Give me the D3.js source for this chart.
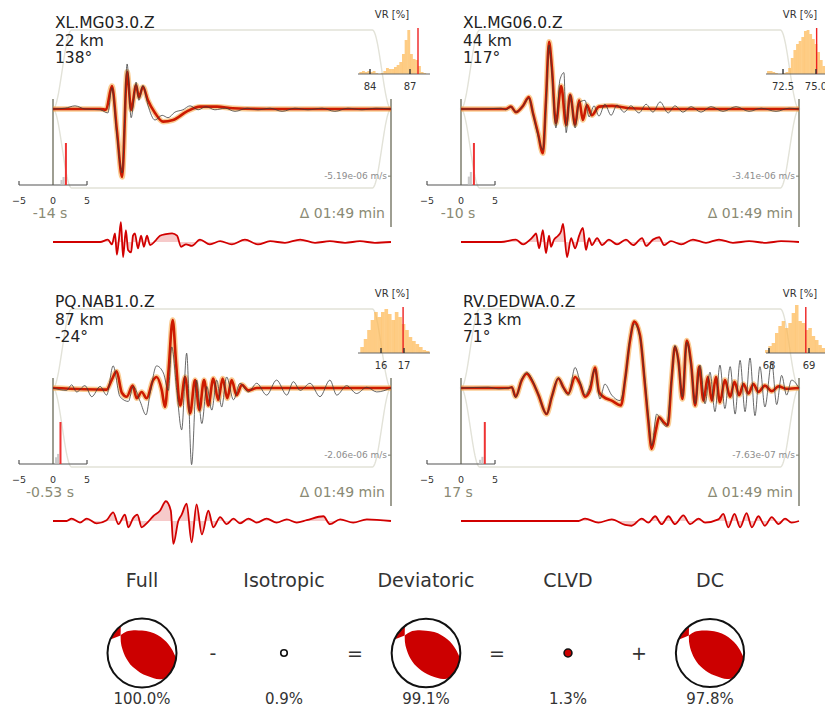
<!DOCTYPE html>
<html>
<head>
<meta charset="utf-8">
<script src="https://cdn.jsdelivr.net/npm/d3@7"></script>
<style>
  body { margin: 0; background: #fff; }
  svg { display: block; font-family: "DejaVu Sans", sans-serif; }
</style>
</head>
<body>
<svg id="chart" width="825" height="708"></svg>
<script>
'use strict';

// station header texts
var stations = ["XL.MG03.0.Z", "XL.MG06.0.Z", "PQ.NAB1.0.Z", "RV.DEDWA.0.Z"];
var distances = ["22 km", "44 km", "87 km", "213 km"];
var azimuths = ["138°", "117°", "-24°", "71°"];
var shiftLabels = ["-14 s", "-10 s", "-0.53 s", "17 s"];
var ampLabels = ["-5.19e-06 m/s", "-3.41e-06 m/s", "-2.06e-06 m/s", "-7.63e-07 m/s"];
var durationLabel = "\u0394 01:49 min";
var duration = 109;              // seconds shown in each window
var taperKnots = [0, 6, 103, 109];

// waveforms: [time s, normalised amplitude]
var obsMG03 = [[0,0],[3.9,0.01],[7.1,0.04],[10.3,0],[15.2,-0.01],[17.7,-0.05],[19.0,0.27],[20.6,-0.33],[22.3,-0.81],[23.9,0.57],[25.2,-0.11],[26.8,0.34],[27.7,0.11],[29.0,0.30],[30.6,0.05],[32.9,-0.14],[35.2,-0.08],[37.1,-0.11],[39.3,-0.04],[41.9,-0.01],[44.2,0.04],[46.8,-0.01],[49.3,0.03],[52.2,-0.01],[55.5,0.01],[58.7,-0.03],[62.6,0.01],[66.1,-0.01],[70.0,0.01],[73.9,-0.03],[78.0,0.01],[82.2,-0.01],[86.8,0.01],[90.9,-0.03],[95.1,0.01],[99.6,-0.01],[104.2,0.01],[109,0]];
var synMG03 = [[0,0],[15.2,0],[17.1,-0.01],[19.0,0.29],[20.6,-0.27],[22.3,-0.86],[23.9,0.47],[25.2,-0.01],[26.8,0.30],[27.7,0.15],[29.0,0.28],[30.6,0.11],[32.9,-0.05],[35.5,-0.16],[38.7,-0.14],[43.2,-0.03],[47.4,0.03],[52.9,0.03],[58.0,0.01],[69.0,0],[109,0]];
var resMG03 = [[0,0],[15.2,0],[17.7,0.03],[19.0,-0.03],[20.0,0.11],[20.6,-0.16],[21.3,0.05],[21.9,0.25],[22.6,-0.19],[23.5,0.15],[24.2,-0.10],[25.2,-0.13],[25.8,0.08],[26.4,0.11],[27.4,-0.08],[28.4,0.08],[29.3,-0.06],[30.3,0.08],[31.3,-0.04],[32.9,0.01],[34.5,0.08],[36.4,0.10],[38.4,0.11],[40.0,0.08],[41.3,-0.06],[42.9,-0.03],[44.8,-0.05],[47.4,0.03],[50.6,-0.03],[53.9,0.01],[57.7,-0.03],[61.9,0.03],[66.1,-0.03],[70.0,0.01],[74.8,-0.01],[79.7,0.03],[84.5,-0.01],[89.3,0.01],[94.2,-0.01],[99.0,0.01],[103.8,-0.01],[109,0]];

var obsMG06 = [[0,0],[6.5,0],[12.9,0.01],[14.5,-0.01],[16.1,0.03],[17.7,-0.04],[20.0,0.04],[21.9,0.14],[23.2,-0.06],[24.8,-0.33],[26.4,-0.52],[27.4,0.05],[28.4,0.81],[29.3,0.47],[30.6,-0.24],[31.9,0.37],[33.2,0.46],[33.9,-0.30],[35.2,0.18],[36.8,-0.24],[38.1,0.08],[40.0,0.11],[41.3,-0.10],[42.9,0.04],[44.5,-0.09],[46.4,0.06],[48.4,-0.08],[50.3,0.05],[52.6,-0.04],[54.8,0.04],[57.4,-0.05],[59.7,0.06],[61.9,-0.04],[64.2,0.09],[66.8,-0.05],[69.0,0.04],[71.6,-0.04],[74.2,0.03],[77.4,-0.04],[80.6,0.03],[84.5,-0.03],[88.7,0.03],[92.9,-0.03],[96.8,0.01],[101.6,-0.03],[105.8,0.01],[109,0]];
var synMG06 = [[0,0],[14.5,0],[16.1,0.03],[17.7,-0.04],[20.0,0.04],[21.9,0.15],[23.2,-0.05],[24.8,-0.30],[26.4,-0.56],[27.4,0.11],[28.4,0.85],[29.3,0.53],[30.6,-0.18],[32.3,0.29],[33.9,-0.20],[35.2,0.18],[36.8,-0.20],[38.1,0.11],[39.3,-0.14],[40.6,0.05],[42.2,-0.08],[44.5,0.03],[48.7,0.04],[54.2,0.01],[64.5,0],[109,0]];
var resMG06 = [[0,0],[12.9,0],[17.7,0.03],[20.0,-0.03],[22.3,0.03],[23.5,0.08],[24.2,0.11],[25.2,-0.08],[26.4,0.15],[27.4,-0.14],[28.4,0.08],[29.0,-0.06],[30.0,0.03],[31.3,0.08],[32.3,0.14],[32.9,0.23],[34.2,-0.19],[35.5,0.05],[36.8,-0.08],[38.1,0.08],[39.3,0.18],[40.3,-0.10],[41.3,0.05],[42.2,-0.04],[43.9,0.05],[45.5,-0.04],[47.7,0.03],[50.3,-0.03],[53.2,0.03],[55.5,-0.04],[58.4,0.05],[59.7,-0.05],[61.9,0.03],[63.9,0.06],[65.5,-0.04],[67.7,0.01],[71.0,-0.03],[74.8,0.03],[79.0,-0.01],[83.2,0.03],[87.7,-0.01],[92.9,0.01],[98.4,-0.01],[103.2,0.01],[109,0]];

var obsNAB1 = [[0,0],[4.4,-0.03],[6.0,0.04],[7.6,-0.05],[10.3,0.03],[12.5,-0.11],[15.2,0.02],[17.3,-0.09],[19.4,0.28],[21.6,-0.11],[24.3,-0.17],[25.9,0.02],[28.1,-0.17],[30.0,-0.34],[31.3,-0.07],[33.4,0.28],[35.6,0.19],[37.2,-0.03],[38.3,0.52],[39.9,-0.03],[41.5,-0.53],[43.1,0.44],[44.7,-0.97],[46.3,0.10],[48.0,-0.45],[49.6,0.02],[51.2,-0.28],[52.8,0.10],[54.4,-0.24],[56.0,0.14],[58.2,-0.15],[60.3,0.06],[63.0,-0.05],[65.7,0.06],[68.9,-0.09],[72.1,0.10],[75.4,-0.09],[77.5,0.08],[79.7,-0.03],[82.9,0.06],[86.1,-0.11],[89.3,0.10],[91.5,-0.09],[94.7,0.03],[97.9,-0.07],[101.2,0.01],[104.4,-0.05],[109,0]];
var synNAB1 = [[0,0],[17.3,-0.02],[18.9,0.10],[20.5,0.21],[22.2,-0.06],[23.8,-0.11],[25.7,0.03],[27.0,-0.13],[28.6,-0.05],[30.2,-0.13],[32.3,0.10],[33.4,0.14],[35.1,-0.03],[36.1,-0.24],[37.2,0.19],[38.6,0.86],[39.7,0.31],[41.0,-0.22],[42.6,0.14],[44.2,-0.32],[45.8,0.10],[47.2,-0.28],[48.7,0.10],[50.1,-0.22],[51.7,0.12],[53.3,-0.15],[54.7,0.12],[56.2,-0.13],[57.6,0.10],[59.2,-0.09],[60.9,0.04],[63.0,-0.03],[65.7,0],[109,0]];
var resNAB1 = [[0,0],[4.4,0],[6.0,0.03],[8.7,-0.02],[10.9,0.03],[14.1,-0.03],[17.3,0.01],[19.4,0.11],[21.1,-0.04],[23.2,0.08],[24.3,-0.08],[25.9,0.04],[27.2,0.08],[28.6,-0.08],[30.2,-0.03],[32.3,0.06],[34.5,0.13],[36.4,0.25],[38.0,0.13],[38.8,-0.29],[40.4,0],[41.5,0.08],[43.1,0.22],[44.7,-0.27],[46.3,0.21],[48.0,-0.17],[50.1,0.13],[51.7,-0.08],[53.9,0.05],[56.0,-0.04],[58.2,0.03],[60.3,-0.03],[63.0,0.03],[65.7,-0.02],[68.9,0.03],[72.1,-0.02],[75.4,0.02],[78.6,-0.02],[81.8,0.01],[87.2,0.06],[89.3,-0.04],[92.6,0.02],[96.8,-0.02],[101.2,0.02],[109,0]];

var obsDEDWA = [[0,0],[8.8,0.01],[12.1,-0.01],[15.3,0],[16.4,0.01],[17.6,-0.12],[19.6,0.11],[21.2,0.20],[23.0,0.10],[25.0,-0.09],[27.6,-0.33],[29.3,-0.11],[31.4,0.13],[33.0,0],[34.6,-0.09],[36.8,0.26],[38.4,0.08],[40.0,-0.09],[41.6,0.03],[43.2,0.24],[44.8,-0.14],[46.4,0.05],[48.6,-0.09],[51.3,-0.16],[52.9,0.10],[54.5,0.62],[55.9,0.81],[57.7,0.65],[59.3,0.10],[60.4,-0.37],[61.5,-0.73],[63.1,-0.33],[64.5,-0.41],[66.3,-0.49],[67.9,0.10],[69.0,0.54],[70.1,0.33],[71.4,-0.11],[72.8,0.58],[74.2,0.29],[75.5,-0.20],[77.1,0.29],[78.7,-0.20],[80.3,0.20],[81.9,-0.30],[83.5,0.29],[85.1,-0.26],[86.8,0.27],[88.4,-0.33],[90.0,0.35],[91.6,-0.30],[93.2,0.38],[94.8,-0.35],[96.4,0.27],[98.0,-0.24],[100.2,0.33],[101.8,-0.21],[103.4,0.16],[105.0,-0.09],[106.6,0.10],[109,0]];
var synDEDWA = [[0,0],[15.3,0],[16.4,0.01],[17.6,-0.11],[19.6,0.10],[21.2,0.18],[22.8,0.10],[25.0,-0.09],[27.6,-0.33],[29.3,-0.11],[31.4,0.12],[33.0,0.01],[34.6,-0.07],[36.8,0.14],[38.4,0.05],[40.0,-0.11],[41.6,-0.03],[43.2,0.26],[44.5,-0.05],[45.9,-0.11],[48.6,-0.16],[51.6,-0.22],[52.9,0.10],[54.5,0.60],[55.9,0.84],[57.7,0.67],[59.3,0.05],[60.4,-0.41],[61.5,-0.77],[62.8,-0.54],[63.9,-0.37],[65.3,-0.43],[66.7,-0.47],[67.9,0.10],[69.0,0.52],[70.1,0.35],[71.4,-0.14],[72.8,0.60],[74.2,0.31],[75.5,-0.22],[76.8,0.27],[78.2,-0.16],[79.6,0.14],[80.9,-0.16],[82.2,0.14],[83.5,-0.18],[85.1,0.10],[86.8,-0.11],[88.2,0.08],[89.7,-0.09],[91.1,0.05],[92.7,-0.07],[94.3,0.05],[95.9,-0.05],[98.0,0.03],[100.2,-0.04],[102.4,0.02],[105.0,-0.01],[109,0]];
var resDEDWA = [[0,0],[37.9,0],[40.0,0.03],[44.3,-0.02],[48.6,0.02],[52.9,-0.05],[55.0,-0.06],[58.3,0.03],[60.4,-0.02],[62.6,0.06],[64.7,-0.04],[66.9,0.06],[69.0,-0.04],[71.7,0.07],[73.9,-0.04],[76.6,0.03],[78.7,-0.02],[83.0,0.02],[84.6,0.09],[86.2,-0.08],[88.2,0.09],[90.0,-0.08],[92.1,0.10],[93.8,-0.08],[95.9,0.06],[98.0,-0.06],[100.2,0.05],[102.4,-0.04],[104.5,0.03],[106.6,-0.02],[109,0]];

// variance reduction histograms
var vrDomains = [[83.1, 88.5], [71.21, 76.67], [15.0, 18.13], [67.925, 69.725]];
var vrTicks = [[84, 87], [72.5, 75.0], [16, 17], [68, 69]];
var vrTickLabels = [["84", "87"], ["72.5", "75.0"], ["16", "17"], ["68", "69"]];
var vrBinStart = [83.2, 71.29, 15.1, 67.9];
var vrBinWidth = [0.2, 0.2, 0.15, 0.0833];
var vrCountsMG03 = [2,3,2,3,2,3,1,0,1,3,6,5,5,7,9,12,20,34,44,20,15,14,8,2,1,0];
var vrCountsMG06 = [3,3,2,1,0,0,1,2,6,16,24,30,33,37,43,44,40,35,30,22,14,8];
var vrCountsNAB1 = [6,14,23,33,41,36,41,44,39,33,41,36,29,23,16,12,9,6,3,2];
var vrCountsDEDWA = [3,7,10,20,27,32,25,30,40,48,32,30,23,25,17,13,8,5];
var vrBest = [87.6, 75.05, 16.96, 68.92];

// time shift histograms [shift s, relative count]
var shiftBest = [1.9, 1.9, 1.1, 3.5];
var shiftGray = [[[1.25, 0.12], [1.55, 0.19]], [[1.15, 0.2], [1.45, 0.31]], [[0.45, 0.16], [0.75, 0.24]], [[2.8, 0.1], [3.15, 0.17]]];

// moment tensor decomposition
var mtNames = ["Full", "Isotropic", "Deviatoric", "CLVD", "DC"];
var mtFractions = [1.0, 0.009, 0.991, 0.013, 0.978];
var mtPercent = ["100.0%", "0.9%", "99.1%", "1.3%", "97.8%"];
var mtKinds = ["dc", "iso", "dc", "clvd", "dc"];
var mtOperators = ["-", "=", "=", "+"];
// beachball outline in unit-circle coordinates (y down)
var lensUpper = [[-0.62,-0.51],[-0.45,-0.62],[-0.24,-0.66],[0.0,-0.65],[0.24,-0.61],[0.45,-0.52],[0.63,-0.39],[0.77,-0.25],[0.87,-0.10],[0.96,0.08]];
var lensArc = [8, 47];
var lensLower = [[0.50,0.76],[0.34,0.73],[0.14,0.66],[-0.05,0.57],[-0.20,0.46],[-0.34,0.33],[-0.45,0.17],[-0.53,0.0],[-0.58,-0.15],[-0.61,-0.30],[-0.62,-0.51]];
var sliverArc = [-128, -157];

var svg = d3.select("#chart");
var panelOffsets = [[0, 0], [408, 0], [0, 279], [408, 279]];
var x0 = 53, x1 = 391, base = 109, resBase = 242, ampPx = 79;
var olive = "#8a8a74", barColor = "#7e7e6e";

var tScale = d3.scaleLinear().domain([0, duration]).range([x0, x1]);
var aScale = d3.scaleLinear().domain([-1, 1]).range([base + ampPx, base - ampPx]);
var rScale = d3.scaleLinear().domain([-1, 1]).range([resBase + ampPx, resBase - ampPx]);
var sScale = d3.scaleLinear().domain([-5, 5]).range([x0 - 34, x0 + 34]);
var shiftH = d3.scaleLinear().domain([0, 1]).range([0, 42]);
var vrH = d3.scaleLinear().domain([0, 50]).range([0, 50]);

var traceLine = d3.line().x(d => tScale(d[0])).y(d => aScale(d[1])).curve(d3.curveMonotoneX);
var resLine = d3.line().x(d => tScale(d[0])).y(d => rScale(d[1])).curve(d3.curveMonotoneX);
var resArea = d3.area().x(d => tScale(d[0])).y0(rScale(0)).y1(d => rScale(d[1])).curve(d3.curveMonotoneX);

function taper(t) {
    var k = taperKnots;
    if (t <= k[0] || t >= k[3]) return 0;
    if (t < k[1]) return 0.5 - 0.5 * Math.cos(Math.PI * (t - k[0]) / (k[1] - k[0]));
    if (t > k[2]) return 0.5 - 0.5 * Math.cos(Math.PI * (k[3] - t) / (k[3] - k[2]));
    return 1;
}

var panels = [
    {obs: obsMG03, syn: synMG03, res: resMG03, vr: vrCountsMG03},
    {obs: obsMG06, syn: synMG06, res: resMG06, vr: vrCountsMG06},
    {obs: obsNAB1, syn: synNAB1, res: resNAB1, vr: vrCountsNAB1},
    {obs: obsDEDWA, syn: synDEDWA, res: resDEDWA, vr: vrCountsDEDWA}
];

panels.forEach(function(p, i) {
    var g = svg.append("g").attr("transform", "translate(" + panelOffsets[i][0] + "," + panelOffsets[i][1] + ")");

    // taper outline
    var ts = d3.range(0, duration + 0.25, 0.25);
    var upper = ts.map(t => [tScale(t), aScale(taper(t))]);
    var lower = ts.slice().reverse().map(t => [tScale(t), aScale(-taper(t))]);
    g.append("path")
        .attr("d", d3.line()(upper.concat(lower)) + "Z")
        .attr("fill", "none")
        .attr("stroke", "#e2e2d8")
        .attr("stroke-width", 1.4);

    // vertical bars
    g.append("line").attr("x1", x0).attr("x2", x0).attr("y1", base - 10).attr("y2", base + 76)
        .attr("stroke", barColor).attr("stroke-width", 1.5);
    g.append("line").attr("x1", x1).attr("x2", x1).attr("y1", base - 10).attr("y2", base + 118)
        .attr("stroke", barColor).attr("stroke-width", 1.5);

    // time shift axis
    var axY = base + 76;
    g.append("line").attr("x1", sScale(-5)).attr("x2", sScale(5)).attr("y1", axY).attr("y2", axY)
        .attr("stroke", "#555").attr("stroke-width", 1.2);
    [-5, 5].forEach(function(v) {
        g.append("line").attr("x1", sScale(v)).attr("x2", sScale(v)).attr("y1", axY).attr("y2", axY - 4)
            .attr("stroke", "#555").attr("stroke-width", 1.2);
    });
    [-5, 0, 5].forEach(function(v) {
        g.append("text").attr("x", sScale(v)).attr("y", axY + 19)
            .attr("text-anchor", "middle").attr("font-size", "9.5px").attr("fill", "#333")
            .text(v < 0 ? "\u2212" + Math.abs(v) : v);
    });
    g.selectAll(".sg").data(shiftGray[i]).enter().append("rect")
        .attr("x", d => sScale(d[0] - 0.15)).attr("width", sScale(0.3) - sScale(0))
        .attr("y", d => axY - shiftH(d[1])).attr("height", d => shiftH(d[1]))
        .attr("fill", "#bbbbbb").attr("opacity", 0.8);
    g.append("rect")
        .attr("x", sScale(shiftBest[i]) - 1).attr("width", 2)
        .attr("y", axY - shiftH(1)).attr("height", shiftH(1))
        .attr("fill", "#ee3333");

    // synthetic halo, synthetic, observed
    g.append("path").attr("d", traceLine(p.syn)).attr("fill", "none")
        .attr("stroke", "#f59a28").attr("stroke-width", 5.5).attr("stroke-opacity", 0.5)
        .attr("stroke-linejoin", "round");
    g.append("path").attr("d", traceLine(p.syn)).attr("fill", "none")
        .attr("stroke", "#cc1a00").attr("stroke-width", 2.6).attr("stroke-linejoin", "round");
    g.append("path").attr("d", traceLine(p.obs)).attr("fill", "none")
        .attr("stroke", "#3a3a3a").attr("stroke-width", 0.9).attr("stroke-opacity", 0.85);

    // residual
    g.append("path").attr("d", resArea(p.res)).attr("fill", "#e05050").attr("fill-opacity", 0.3);
    g.append("path").attr("d", resLine(p.res)).attr("fill", "none")
        .attr("stroke", "#d10000").attr("stroke-width", 1.8);

    // labels
    [stations[i], distances[i], azimuths[i]].forEach(function(s, k) {
        g.append("text").attr("x", 55).attr("y", 28 + k * 17.5)
            .attr("font-size", "15.5px").attr("fill", "#222").text(s);
    });
    var ampY = aScale(-0.85);
    g.append("line").attr("x1", x1 - 3).attr("x2", x1).attr("y1", ampY).attr("y2", ampY)
        .attr("stroke", barColor).attr("stroke-width", 1);
    g.append("text").attr("x", x1 - 4).attr("y", ampY + 3).attr("text-anchor", "end")
        .attr("font-size", "9px").attr("fill", "#8c8c8c").text(ampLabels[i]);
    g.append("text").attr("x", x0 - 3).attr("y", 218).attr("text-anchor", "middle")
        .attr("font-size", "14px").attr("fill", olive).text(shiftLabels[i]);
    g.append("text").attr("x", x1 - 6).attr("y", 218).attr("text-anchor", "end")
        .attr("font-size", "14px").attr("fill", olive).text(durationLabel);

    // VR histogram
    var vx = d3.scaleLinear().domain(vrDomains[i]).range([358, 430]);
    var hb = 74;
    var bins = p.vr.map((c, k) => [vrBinStart[i] + k * vrBinWidth[i], c]);
    g.selectAll(".vr").data(bins).enter().append("rect")
        .attr("x", d => vx(d[0])).attr("width", vx(vrBinWidth[i]) - vx(0) + 0.2)
        .attr("y", d => hb - vrH(d[1])).attr("height", d => vrH(d[1]))
        .attr("fill", "#fdb750").attr("fill-opacity", 0.7);
    g.append("line").attr("x1", 358).attr("x2", 430).attr("y1", hb).attr("y2", hb)
        .attr("stroke", "#666").attr("stroke-width", 1.2);
    g.append("line").attr("x1", vx(vrBest[i])).attr("x2", vx(vrBest[i])).attr("y1", hb).attr("y2", hb - 46)
        .attr("stroke", "#ee2222").attr("stroke-width", 1.4);
    vrTicks[i].forEach(function(v, k) {
        g.append("line").attr("x1", vx(v)).attr("x2", vx(v)).attr("y1", hb).attr("y2", hb - 5)
            .attr("stroke", "#333").attr("stroke-width", 1.4);
        g.append("text").attr("x", vx(v)).attr("y", hb + 16).attr("text-anchor", "middle")
            .attr("font-size", "10px").attr("fill", "#333").text(vrTickLabels[i][k]);
    });
    g.append("text").attr("x", 392).attr("y", 18).attr("text-anchor", "middle")
        .attr("font-size", "10px").attr("fill", "#333").text("VR [%]");
});

// moment tensor decomposition row
var mx = d3.scalePoint().domain(mtNames).range([142, 710]);
var R = 34.5, by = 653;
var rad = d3.scaleSqrt().domain([0, 1]).range([0, R]);

function arcPts(a0, a1) {
    var n = 24;
    return d3.range(n + 1).map(k => {
        var a = (a0 + (a1 - a0) * k / n) * Math.PI / 180;
        return [Math.cos(a), Math.sin(a)];
    });
}

mtNames.forEach(function(name, i) {
    var cx = mx(name), r = rad(mtFractions[i]);
    svg.append("text").attr("x", cx).attr("y", 587).attr("text-anchor", "middle")
        .attr("font-size", "19px").attr("fill", "#333").text(name);
    svg.append("text").attr("x", cx).attr("y", 704).attr("text-anchor", "middle")
        .attr("font-size", "15px").attr("fill", "#333").text(mtPercent[i]);

    var g = svg.append("g").attr("transform", "translate(" + cx + "," + by + ")");
    if (mtKinds[i] === "dc") {
        var u = d3.scaleLinear().domain([-1, 1]).range([-r, r]);
        var pl = d3.line().x(d => u(d[0])).y(d => u(d[1])).curve(d3.curveCatmullRom);
        g.append("circle").attr("r", r).attr("fill", "#fff");
        var lens = lensUpper.concat(arcPts(lensArc[0], lensArc[1])).concat(lensLower);
        g.append("path").attr("d", pl(lens) + "Z").attr("fill", "#cc0000");
        var apex = lensUpper[0];
        var sliver = [apex].concat(arcPts(sliverArc[0], sliverArc[1])).concat([apex]);
        g.append("path").attr("d", d3.line().x(d => u(d[0])).y(d => u(d[1]))(sliver) + "Z").attr("fill", "#cc0000");
        g.append("circle").attr("r", r).attr("fill", "none").attr("stroke", "#111").attr("stroke-width", 2);
    } else {
        g.append("circle").attr("r", r)
            .attr("fill", mtKinds[i] === "clvd" ? "#cc0000" : "#fff")
            .attr("stroke", "#111").attr("stroke-width", 1.6);
    }
});

d3.range(mtOperators.length).forEach(function(k) {
    var cx = (mx(mtNames[k]) + mx(mtNames[k + 1])) / 2;
    svg.append("text").attr("x", cx).attr("y", by).attr("text-anchor", "middle")
        .attr("dominant-baseline", "central").attr("font-size", "19px").attr("fill", "#333")
        .text(mtOperators[k]);
});
</script>
</body>
</html>
